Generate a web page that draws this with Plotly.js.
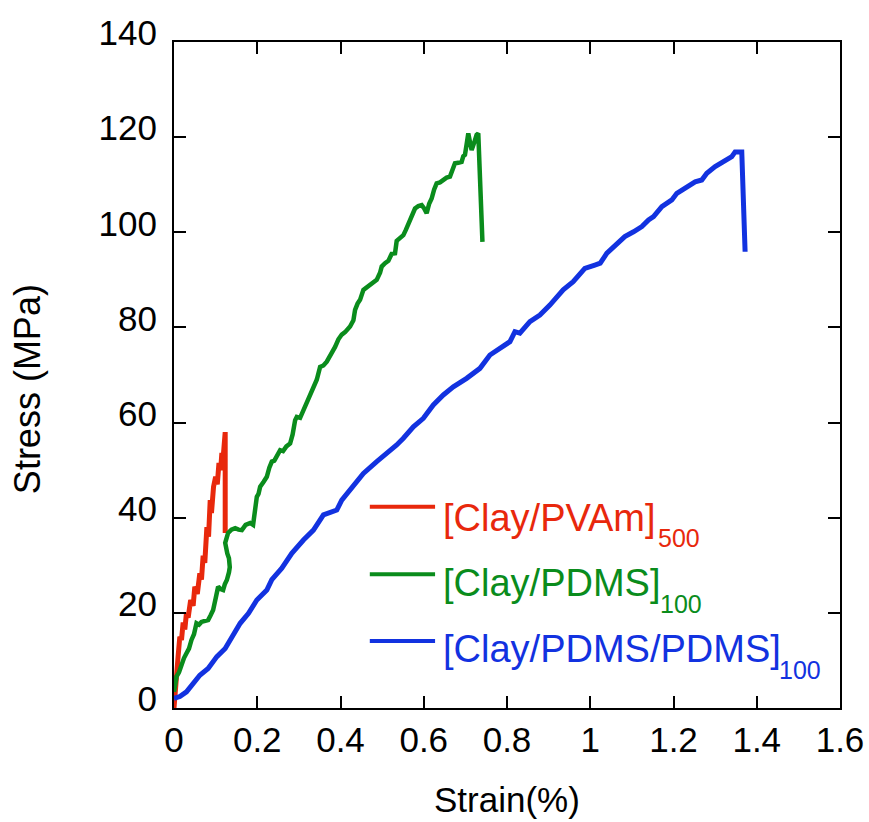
<!DOCTYPE html>
<html>
<head>
<meta charset="utf-8">
<script src="https://cdn.plot.ly/plotly-3.0.1.min.js"></script>
<style>
  html, body { margin: 0; padding: 0; background: #fff; }
  #chart { width: 869px; height: 822px; }
</style>
</head>
<body>
<div id="chart"></div>
<script>
// Tensile stress–strain curves of clay nanocomposite films
const seriesNames = ['[Clay/PVAm]', '[Clay/PDMS]', '[Clay/PDMS/PDMS]'];
const seriesSubs = ['500', '100', '100'];
const seriesColors = ['#e8280c', '#0a8c1c', '#1232e0'];

const pvamStrain = [0, 0.002, 0.006, 0.01, 0.014, 0.018, 0.022, 0.026, 0.03, 0.034, 0.04, 0.046, 0.05, 0.056, 0.062, 0.066, 0.07, 0.074, 0.079, 0.083, 0.087, 0.09, 0.095, 0.1, 0.104, 0.108, 0.112, 0.115, 0.118, 0.121, 0.1225, 0.123, 0.123];
const pvamStress = [0, 3, 8.5, 11, 15, 14.3, 18, 16.5, 20, 19, 22.7, 21.5, 25.5, 24, 28.3, 27, 32, 30.5, 38, 36, 43.7, 41, 46.5, 48.6, 47, 51.5, 50, 53.6, 52.5, 56, 57.8, 58, 36.8];

const pdmsStrain = [0, 0.006, 0.012, 0.018, 0.024, 0.03, 0.036, 0.042, 0.048, 0.054, 0.06, 0.066, 0.074, 0.082, 0.088, 0.094, 0.1, 0.106, 0.112, 0.118, 0.122, 0.127, 0.132, 0.134, 0.132, 0.128, 0.123, 0.126, 0.13, 0.138, 0.147, 0.155, 0.163, 0.172, 0.183, 0.19, 0.195, 0.199, 0.203, 0.207, 0.215, 0.223, 0.229, 0.235, 0.241, 0.247, 0.255, 0.262, 0.27, 0.279, 0.285, 0.291, 0.295, 0.303, 0.311, 0.319, 0.327, 0.335, 0.343, 0.351, 0.359, 0.367, 0.375, 0.387, 0.395, 0.403, 0.411, 0.423, 0.431, 0.435, 0.441, 0.447, 0.455, 0.463, 0.471, 0.479, 0.487, 0.495, 0.499, 0.507, 0.515, 0.523, 0.531, 0.535, 0.541, 0.551, 0.557, 0.563, 0.571, 0.579, 0.587, 0.595, 0.601, 0.607, 0.613, 0.619, 0.625, 0.631, 0.639, 0.647, 0.655, 0.663, 0.669, 0.675, 0.683, 0.691, 0.695, 0.699, 0.703, 0.707, 0.711, 0.715, 0.721, 0.727, 0.731, 0.741];
const pdmsStress = [3.4, 6.6, 7.5, 9.4, 10.5, 11.5, 12.5, 14.3, 15.5, 17.8, 17.5, 18.1, 18.3, 18.5, 19.5, 20.6, 23, 25.5, 25, 24.8, 26, 26.9, 28.5, 29.6, 31.5, 32.5, 34.7, 36, 36.8, 37.5, 37.8, 37.5, 37.4, 38.5, 38.9, 38.5, 41.5, 44.4, 45, 46.5, 47.5, 48.6, 50.5, 51.8, 52, 52.8, 54.2, 54, 55, 55.6, 57.5, 60.5, 61.2, 61, 62.5, 64.5, 65.5, 67.4, 69, 71.7, 72, 72.8, 74, 75.9, 77.5, 78.5, 79, 80.2, 81.5, 83.7, 85, 85.8, 87.9, 88.5, 89.1, 89.5, 90, 91.5, 92.8, 93.5, 94, 95.5, 95.6, 98.2, 98.7, 99.4, 100.5, 101.9, 103.5, 105, 105.5, 105.7, 105, 104, 106, 107.1, 109, 110.3, 110.5, 111, 111.5, 111.7, 113, 114.5, 114.6, 114.8, 116, 116.3, 118.5, 120.8, 119, 117.3, 118.8, 120.5, 120.8, 98];

const pdms2Strain = [0, 0.014, 0.03, 0.046, 0.062, 0.082, 0.103, 0.123, 0.139, 0.159, 0.179, 0.199, 0.223, 0.235, 0.259, 0.283, 0.311, 0.335, 0.359, 0.375, 0.391, 0.403, 0.427, 0.455, 0.487, 0.511, 0.535, 0.551, 0.575, 0.599, 0.623, 0.647, 0.671, 0.703, 0.735, 0.759, 0.783, 0.807, 0.819, 0.831, 0.855, 0.879, 0.903, 0.935, 0.959, 0.987, 1.011, 1.024, 1.04, 1.059, 1.083, 1.104, 1.124, 1.14, 1.152, 1.172, 1.196, 1.208, 1.232, 1.252, 1.268, 1.28, 1.3, 1.32, 1.34, 1.348, 1.364, 1.372];
const pdms2Stress = [2, 2.4, 3.4, 5.2, 6.9, 8.3, 10.8, 12.5, 15, 17.8, 19.9, 22.7, 24.8, 27, 29.4, 32.5, 35.3, 37.4, 40.6, 41.2, 41.6, 43.7, 46.2, 49.3, 51.8, 53.5, 55.3, 56.7, 59.1, 60.9, 63.7, 65.8, 67.5, 69.3, 71.4, 74.2, 75.6, 77, 79.1, 78.8, 81.2, 82.6, 84.7, 87.9, 89.6, 92.4, 93.1, 93.5, 95.6, 97, 99.1, 100.1, 101.2, 102.6, 103.3, 105.4, 106.8, 108.2, 109.6, 110.6, 111, 112.4, 113.8, 114.9, 115.9, 116.9, 116.9, 95.9];

const xTicks = [0, 0.2, 0.4, 0.6, 0.8, 1, 1.2, 1.4, 1.6];
const xTickText = ['0', '0.2', '0.4', '0.6', '0.8', '1', '1.2', '1.4', '1.6'];
const yTicks = [0, 20, 40, 60, 80, 100, 120, 140];

const FONT = 'Liberation Sans, Arial, Helvetica, sans-serif';

const curves = [
  [pvamStrain, pvamStress, 5],
  [pdmsStrain, pdmsStress, 4.5],
  [pdms2Strain, pdms2Stress, 5]
];
const traces = curves.map((c, i) => ({
  type: 'scatter', mode: 'lines',
  x: c[0], y: c[1],
  name: seriesNames[i],
  line: { color: seriesColors[i], width: c[2] },
  showlegend: false
}));

// key lines and labels for each series, placed inside the plot area
const keyX0 = 0.294, keyX1 = 0.392;
const keyY = [0.302, 0.201, 0.1006];
const labelY = [0.286, 0.1884, 0.0886];
const subX = [0.724, 0.726, 0.905];
const subY = [0.255, 0.156, 0.057];

const shapes = keyY.map((y, i) => ({
  type: 'line', xref: 'paper', yref: 'paper',
  x0: keyX0, x1: keyX1, y0: y, y1: y,
  line: { color: seriesColors[i], width: 4 }
}));

const annotations = [];
seriesNames.forEach((n, i) => {
  annotations.push({
    xref: 'paper', yref: 'paper', x: 0.401, y: labelY[i],
    xanchor: 'left', yanchor: 'middle', showarrow: false,
    text: n, font: { family: FONT, size: 38, color: seriesColors[i] }
  });
  annotations.push({
    xref: 'paper', yref: 'paper', x: subX[i], y: subY[i],
    xanchor: 'left', yanchor: 'middle', showarrow: false,
    text: seriesSubs[i], font: { family: FONT, size: 25, color: seriesColors[i] }
  });
});
annotations.push({
  xref: 'paper', yref: 'paper', x: -0.219, y: 0.479,
  xanchor: 'center', yanchor: 'middle', textangle: -90, showarrow: false,
  text: 'Stress (MPa)', font: { family: FONT, size: 36, color: '#000' }
});
annotations.push({
  xref: 'paper', yref: 'paper', x: 0.5, y: -0.138,
  xanchor: 'center', yanchor: 'middle', showarrow: false,
  text: 'Strain(%)', font: { family: FONT, size: 35, color: '#000' }
});

const axisCommon = {
  showgrid: false, zeroline: false,
  showline: true, linecolor: '#000', linewidth: 2, mirror: 'ticks',
  ticks: 'inside', ticklen: 12, tickwidth: 2, tickcolor: '#000',
  tickfont: { family: FONT, size: 35, color: '#000' }
};

const layout = {
  width: 869, height: 822,
  margin: { l: 174, r: 29, t: 42, b: 114 },
  paper_bgcolor: '#fff', plot_bgcolor: '#fff',
  xaxis: Object.assign({}, axisCommon, {
    range: [0, 1.6], tickvals: xTicks, ticktext: xTickText
  }),
  yaxis: Object.assign({}, axisCommon, {
    range: [0, 140], tickvals: yTicks, ticklabelshift: -9, ticklabelstandoff: 8
  }),
  shapes: shapes,
  annotations: annotations
};

Plotly.newPlot('chart', traces, layout, { displayModeBar: false, staticPlot: true });
</script>
</body>
</html>
